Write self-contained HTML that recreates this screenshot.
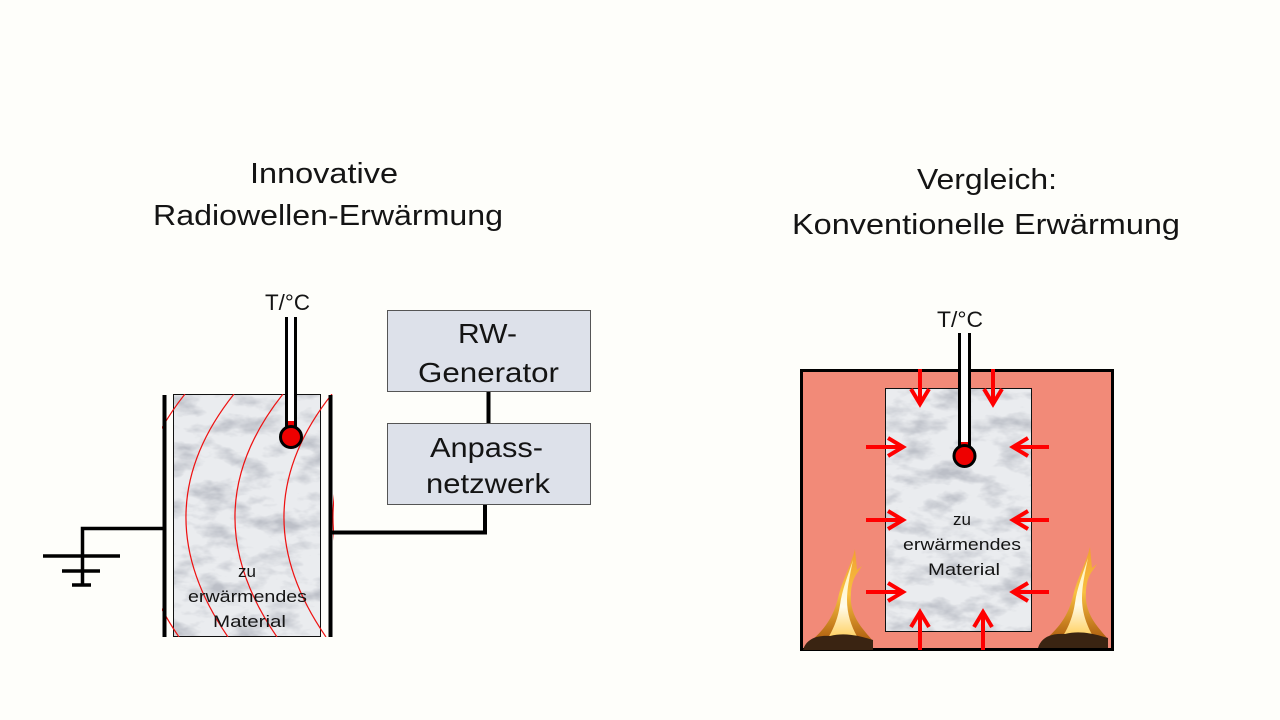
<!DOCTYPE html>
<html>
<head>
<meta charset="utf-8">
<style>
html,body{margin:0;padding:0;background:#fefefa;}
svg{display:block;}
text{font-family:"Liberation Sans",Arial,sans-serif;fill:#141414;}
</style>
</head>
<body>
<svg width="1280" height="720" viewBox="0 0 1280 720" xmlns="http://www.w3.org/2000/svg">
<defs>
  <filter id="marble" x="0" y="0" width="100%" height="100%">
    <feTurbulence type="fractalNoise" baseFrequency="0.03 0.06" numOctaves="4" seed="7" result="n"/>
    <feColorMatrix in="n" type="matrix" values="0 0 0 0 0.5  0 0 0 0 0.52  0 0 0 0 0.57  -2.6 0 0 0 1.45"/>
  </filter>
  <clipPath id="clipL"><rect x="162" y="394" width="172" height="243"/></clipPath>
  <linearGradient id="flameG" x1="0" y1="0" x2="0" y2="1">
    <stop offset="0" stop-color="#f0a030"/>
    <stop offset="0.5" stop-color="#f8c040"/>
    <stop offset="1" stop-color="#b06010"/>
  </linearGradient>
  <linearGradient id="coreG" x1="0" y1="0" x2="0" y2="1">
    <stop offset="0" stop-color="#fff2b0"/>
    <stop offset="0.6" stop-color="#fffbe8"/>
    <stop offset="1" stop-color="#ffd060"/>
  </linearGradient>
  <g id="flame">
    <path d="M855 549 C851 566 842 580 838 598 C834 615 826 628 812 640 L872 640 C864 630 853 620 851 602 C850 588 853 578 858 572 L862 566 L857 570 Z" fill="url(#flameG)"/>
    <path d="M853 560 C848 575 842 590 840 605 C838 618 834 628 828 638 L858 638 C852 628 847 615 847 600 C847 588 850 575 853 560 Z" fill="url(#coreG)"/>
    <path d="M803 650 C806 640 815 635 830 636 C845 632 860 636 873 640 L873 650 Z" fill="#3a2412"/>
  </g>
</defs>

<!-- Titles -->
<text x="250" y="183" font-size="29" textLength="148" lengthAdjust="spacingAndGlyphs">Innovative</text>
<text x="153" y="225" font-size="29" textLength="350" lengthAdjust="spacingAndGlyphs">Radiowellen-Erwärmung</text>
<text x="917" y="189" font-size="29" textLength="140" lengthAdjust="spacingAndGlyphs">Vergleich:</text>
<text x="792" y="234" font-size="29" textLength="388" lengthAdjust="spacingAndGlyphs">Konventionelle Erwärmung</text>

<!-- ===== Left diagram ===== -->
<rect x="173" y="394" width="148" height="243" fill="#eaecef"/>
<rect x="173" y="394" width="148" height="243" filter="url(#marble)"/>
<rect x="173.5" y="394.5" width="147" height="242" fill="none" stroke="#111" stroke-width="1"/>

<!-- red field curves -->
<g clip-path="url(#clipL)" fill="none" stroke="#ee1111" stroke-width="1.2">
  <path d="M185 394 Q92 511 179 637"/>
  <path d="M234 394 Q141 511 228 637"/>
  <path d="M283 394 Q190 511 277 637"/>
  <path d="M332 394 Q239 511 326 637"/>
  <path d="M381 394 Q288 511 375 637"/>
</g>

<text x="247" y="577" font-size="17" text-anchor="middle">zu</text>
<text x="188" y="602" font-size="17" textLength="119" lengthAdjust="spacingAndGlyphs">erwärmendes</text>
<text x="213" y="627" font-size="17" textLength="73" lengthAdjust="spacingAndGlyphs">Material</text>

<!-- plates -->
<line x1="164.5" y1="395" x2="164.5" y2="637" stroke="#000" stroke-width="4"/>
<line x1="330.5" y1="395" x2="330.5" y2="637" stroke="#000" stroke-width="4"/>

<!-- ground -->
<polyline points="164,528.5 82.5,528.5 82.5,585" fill="none" stroke="#000" stroke-width="3.5"/>
<line x1="43" y1="556" x2="120" y2="556" stroke="#000" stroke-width="3.5"/>
<line x1="62" y1="571" x2="100" y2="571" stroke="#000" stroke-width="3.5"/>
<line x1="72" y1="585" x2="91" y2="585" stroke="#000" stroke-width="3.5"/>

<!-- connection to network -->
<polyline points="331,532.5 485,532.5 485,504" fill="none" stroke="#000" stroke-width="4"/>
<line x1="488.5" y1="391" x2="488.5" y2="423" stroke="#000" stroke-width="4"/>

<!-- boxes -->
<rect x="387.5" y="310.5" width="203" height="81" fill="#dde1ea" stroke="#555" stroke-width="1"/>
<text x="458" y="343" font-size="28" textLength="59" lengthAdjust="spacingAndGlyphs">RW-</text>
<text x="418" y="382" font-size="28" textLength="141" lengthAdjust="spacingAndGlyphs">Generator</text>
<rect x="387.5" y="423.5" width="203" height="81" fill="#dde1ea" stroke="#555" stroke-width="1"/>
<text x="430" y="457" font-size="28" textLength="113" lengthAdjust="spacingAndGlyphs">Anpass-</text>
<text x="426" y="493" font-size="28" textLength="124" lengthAdjust="spacingAndGlyphs">netzwerk</text>

<!-- left thermometer -->
<text x="265" y="310" font-size="22" textLength="45" lengthAdjust="spacingAndGlyphs">T/°C</text>
<rect x="286.5" y="317" width="9" height="120" fill="#fff"/>
<rect x="286.5" y="421" width="9" height="16" fill="#ee0000"/>
<line x1="286.5" y1="317" x2="286.5" y2="428" stroke="#000" stroke-width="3"/>
<line x1="295.5" y1="317" x2="295.5" y2="428" stroke="#000" stroke-width="3"/>
<circle cx="291" cy="437" r="10.5" fill="#ee0000" stroke="#000" stroke-width="3"/>

<!-- ===== Right diagram ===== -->
<rect x="801.5" y="370.5" width="311" height="279" fill="#f28a78" stroke="#000" stroke-width="3"/>
<use href="#flame"/>
<use href="#flame" transform="translate(235,-2)"/>
<rect x="885" y="388" width="147" height="244" fill="#eaecef"/>
<rect x="885" y="388" width="147" height="244" filter="url(#marble)"/>
<rect x="885.5" y="388.5" width="146" height="243" fill="none" stroke="#111" stroke-width="1"/>

<text x="962" y="525" font-size="17" text-anchor="middle">zu</text>
<text x="903" y="550" font-size="17" textLength="118" lengthAdjust="spacingAndGlyphs">erwärmendes</text>
<text x="928" y="575" font-size="17" textLength="72" lengthAdjust="spacingAndGlyphs">Material</text>

<!-- arrows -->
<g stroke="#ff0000" stroke-width="4" fill="none">
  <line x1="920" y1="369" x2="920" y2="403"/><polyline points="911,389 920,404 929,389"/>
  <line x1="993" y1="369" x2="993" y2="403"/><polyline points="984,389 993,404 1002,389"/>
  <line x1="920" y1="650" x2="920" y2="614"/><polyline points="911,627 920,612 929,627"/>
  <line x1="983" y1="650" x2="983" y2="614"/><polyline points="974,627 983,612 992,627"/>

  <line x1="866" y1="447" x2="901" y2="447"/><polyline points="888,438 903,447 888,456"/>
  <line x1="866" y1="520" x2="901" y2="520"/><polyline points="888,511 903,520 888,529"/>
  <line x1="866" y1="592" x2="901" y2="592"/><polyline points="888,583 903,592 888,601"/>

  <line x1="1049" y1="447" x2="1015" y2="447"/><polyline points="1028,438 1013,447 1028,456"/>
  <line x1="1049" y1="520" x2="1015" y2="520"/><polyline points="1028,511 1013,520 1028,529"/>
  <line x1="1049" y1="592" x2="1015" y2="592"/><polyline points="1028,583 1013,592 1028,601"/>
</g>

<!-- right thermometer -->
<text x="937" y="327" font-size="22" textLength="46" lengthAdjust="spacingAndGlyphs">T/°C</text>
<rect x="959.5" y="333" width="10" height="123" fill="#fff"/>
<rect x="959.5" y="442" width="10" height="14" fill="#ee0000"/>
<line x1="959.5" y1="333" x2="959.5" y2="447" stroke="#000" stroke-width="3"/>
<line x1="969.5" y1="333" x2="969.5" y2="447" stroke="#000" stroke-width="3"/>
<circle cx="964.5" cy="456" r="10.5" fill="#ee0000" stroke="#000" stroke-width="3"/>
</svg>
</body>
</html>
